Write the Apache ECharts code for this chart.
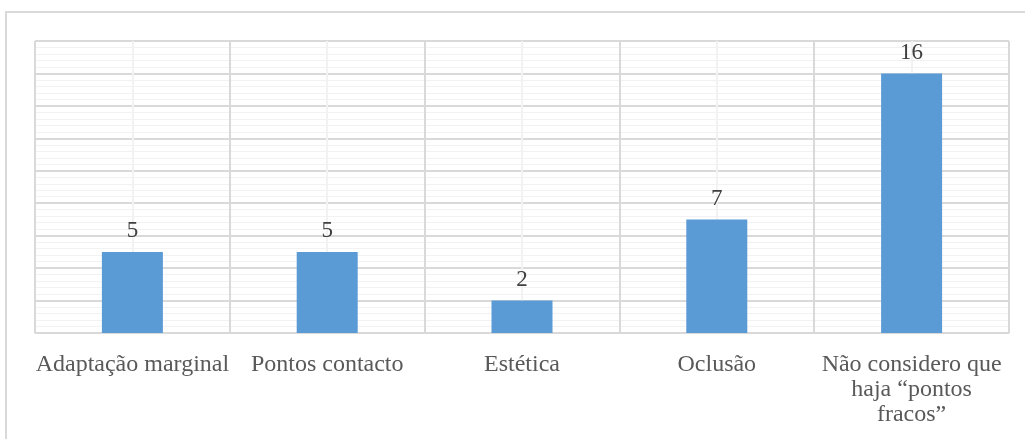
<!DOCTYPE html>
<html>
<head>
<meta charset="utf-8">
<script src="https://cdn.jsdelivr.net/npm/echarts@6/dist/echarts.min.js"></script>
<style>
  html, body { margin: 0; padding: 0; background: #fff; overflow: hidden; }
  #frame { position: absolute; left: 5px; top: 11px; width: 1040px; height: 460px;
           border: 2px solid #d9d9d9; box-sizing: border-box; }
  #chart { position: absolute; left: 0; top: 0; width: 1025px; height: 439px; }
</style>
</head>
<body>
<div id="frame"></div>
<div id="chart"></div>
<script>
// Pontos fracos apontados pelos inquiridos
const categories = [
  'Adaptação marginal',
  'Pontos contacto',
  'Estética',
  'Oclusão',
  'Não considero que\nhaja “pontos\nfracos”'
];
const counts = [5, 5, 2, 7, 16];

const yMax = 18;
const yStep = 2;

const serif = '"Liberation Serif", "Times New Roman", serif';

const chart = echarts.init(document.getElementById('chart'), null, { renderer: 'canvas' });

chart.setOption({
  animation: false,
  grid: { left: 35, right: 16, top: 41, bottom: 106, containLabel: false },
  xAxis: [
    {
      type: 'category',
      data: categories,
      axisLine: { show: true, lineStyle: { color: '#d9d9d9', width: 1 } },
      axisTick: { show: false },
      splitLine: { show: false },
      axisLabel: {
        interval: 0,
        margin: 19,
        fontFamily: serif,
        fontSize: 24,
        lineHeight: 25,
        color: '#595959',
        align: 'center'
      }
    },
    {
      // background vertical grid: category boundaries and centres
      type: 'value',
      position: 'bottom',
      min: 0,
      max: categories.length,
      interval: 1,
      axisLine: { show: false },
      axisTick: { show: false },
      axisLabel: { show: false },
      splitLine: { show: true, lineStyle: { color: '#d9d9d9', width: 2 } },
      minorTick: { show: false, splitNumber: 2 },
      minorSplitLine: { show: true, lineStyle: { color: '#f2f2f2', width: 2 } }
    }
  ],
  yAxis: {
    type: 'value',
    min: 0,
    max: yMax,
    interval: yStep,
    axisLine: { show: false },
    axisTick: { show: false },
    axisLabel: { show: false },
    splitLine: { show: true, lineStyle: { color: '#d9d9d9', width: 2 } },
    minorTick: { show: false, splitNumber: 5 },
    minorSplitLine: { show: true, lineStyle: { color: '#f2f2f2', width: 1 } }
  },
  series: [
    {
      type: 'bar',
      xAxisIndex: 0,
      data: counts,
      barWidth: 61,
      itemStyle: { color: '#5b9bd5' },
      label: {
        show: true,
        position: 'top',
        distance: 9,
        fontFamily: serif,
        fontSize: 23,
        color: '#404040'
      }
    }
  ]
});
</script>
</body>
</html>
